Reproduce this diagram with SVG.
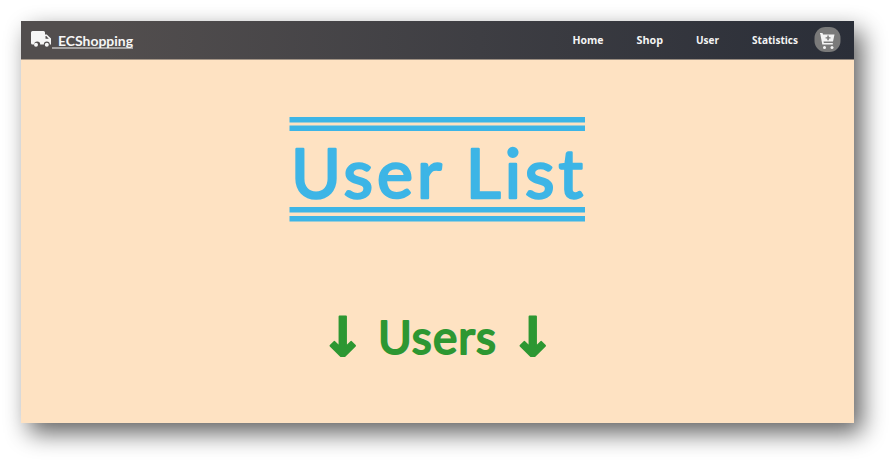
<svg xmlns="http://www.w3.org/2000/svg" width="896" height="465" viewBox="0 0 896 465">
<style>
.nav{font:700 11px "Open Sans","Liberation Sans",sans-serif;fill:#f4f4f4}
.rule{fill:#3db5e6}
.h1{font-family:"Lato","Noto Sans",sans-serif;font-weight:400;fill:#3db5e6;stroke:#3db5e6;stroke-width:2.500;stroke-linejoin:round;stroke-linecap:round}
.h2{font-family:"Lato","Noto Sans",sans-serif;font-weight:400;fill:#2d9732;stroke:#2d9732;stroke-width:2;stroke-linejoin:round}
.ar{font-family:"DejaVu Sans",sans-serif;font-weight:700;fill:#2d9732;stroke:#2d9732;stroke-width:2;stroke-linejoin:round}
</style>
<defs>
<linearGradient id="g" x1="0" x2="1" y1="0" y2="0"><stop offset="0" stop-color="#524e4e"/><stop offset="0.1" stop-color="#524e4e"/><stop offset="1" stop-color="#2a2e38"/></linearGradient>
<filter id="s" x="-10%" y="-20%" width="120%" height="140%"><feGaussianBlur stdDeviation="12"/></filter>
</defs>
<rect width="896" height="465" fill="#fff"/>
<rect x="29" y="31" width="833" height="402" fill="#000" opacity="0.62" filter="url(#s)"/>
<rect x="21" y="21" width="833" height="402" fill="#fee2c2"/>
<g id="navbar">
<rect x="21" y="21" width="833" height="38.500" fill="url(#g)"/>
<g id="brand">
<path fill="#f6f6f6" d="M32.500 31h11a1.500 1.500 0 0 1 1.500 1.500v2h1.800l4.200 4v6h-1.200a3 3 0 0 0-6 0h-3.600a3 3 0 0 0-6 0h-1.700a1.500 1.500 0 0 1-1.500-1.500v-10.500a1.500 1.500 0 0 1 1.500-1.500z"/>
<path fill="#524e4e" d="M45.500 36v2.800h3.300l-2.500-2.800z"/>
<circle cx="36" cy="44.700" r="2" fill="#f6f6f6"/><circle cx="46.800" cy="44.700" r="2" fill="#f6f6f6"/>
<text x="58" y="45.500" font-family="Lato,'Noto Sans',sans-serif" font-size="14" font-weight="700" fill="#f6f6f6" textLength="75" lengthAdjust="spacingAndGlyphs">ECShopping</text>
<rect x="52" y="47.500" width="81" height="1" fill="#f6f6f6"/>
</g>
<g id="nav-home"><text class="nav" x="572.500" y="44" textLength="31" lengthAdjust="spacingAndGlyphs">Home</text></g>
<g id="nav-shop"><text class="nav" x="636.500" y="44" textLength="26.500" lengthAdjust="spacingAndGlyphs">Shop</text></g>
<g id="nav-user"><text class="nav" x="696" y="44" textLength="23" lengthAdjust="spacingAndGlyphs">User</text></g>
<g id="nav-statistics"><text class="nav" x="752" y="44" textLength="46" lengthAdjust="spacingAndGlyphs">Statistics</text></g>
<g id="cart">
<rect x="814.500" y="27" width="26" height="25" rx="11" fill="#7a7a7a"/>
<path fill="#f4f4f4" d="M820 33h2.500l.5 1.500h11.500l-1.500 7h-9.500l.3 1.500h9v1.500h-10.500l-2-10.500h-.3z"/>
<path fill="#7a7a7a" d="M827.300 35.500h1.500v1.700h1.700v1.400h-1.700v1.700h-1.500v-1.700h-1.700v-1.400h1.700z"/>
<circle cx="824.500" cy="47.500" r="1.500" fill="#f4f4f4"/><circle cx="832" cy="47.500" r="1.500" fill="#f4f4f4"/>
</g>
</g>
<g id="title">
<rect class="rule" x="289.500" y="117" width="295.500" height="5.500"/>
<rect class="rule" x="289.500" y="125.500" width="295.500" height="5.500"/>
<text class="h1" x="291" y="198" font-size="68" textLength="292" lengthAdjust="spacing">User List</text>
<rect class="rule" x="289.500" y="207" width="295.500" height="5.500"/>
<rect class="rule" x="289.500" y="216" width="295.500" height="5.500"/>
</g>
<g id="subtitle">
<text class="ar" x="342.500" y="356" font-size="54" text-anchor="middle">↓</text>
<text class="h2" x="378" y="354" font-size="46" textLength="118" lengthAdjust="spacing">Users</text>
<text class="ar" x="532.500" y="356" font-size="54" text-anchor="middle">↓</text>
</g>
</svg>
